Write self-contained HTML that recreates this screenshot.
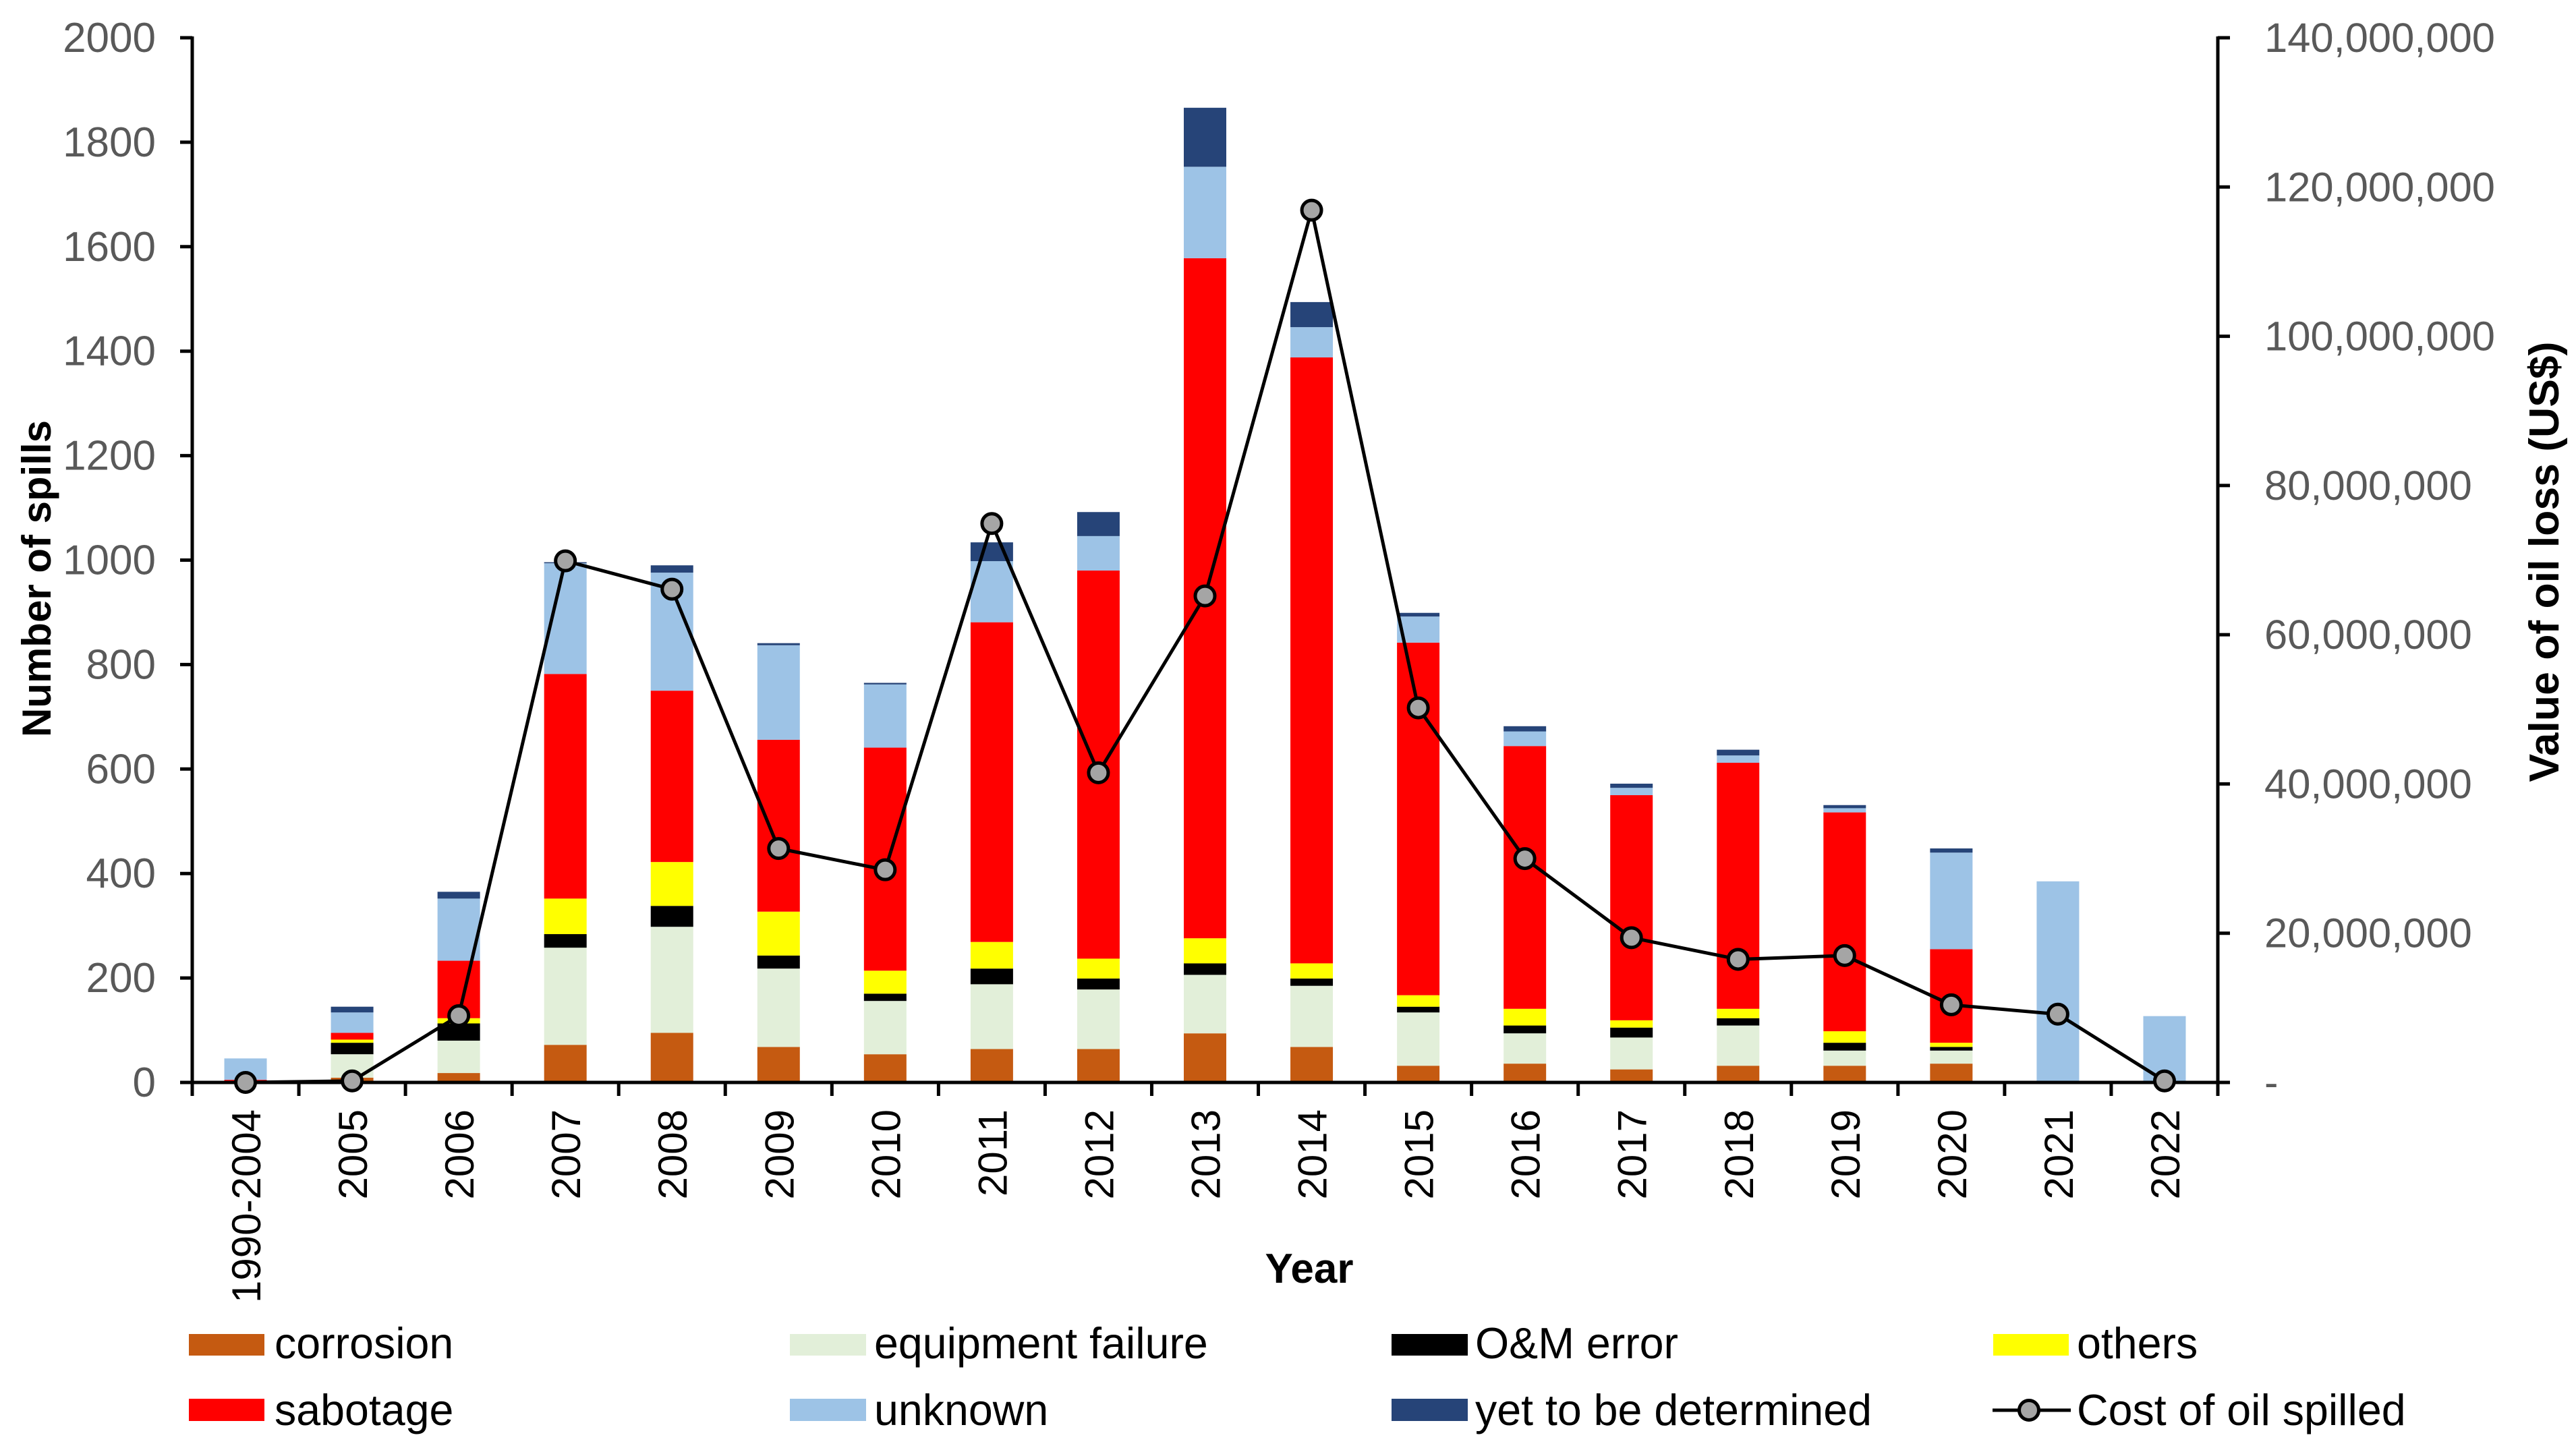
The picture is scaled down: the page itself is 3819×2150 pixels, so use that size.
<!DOCTYPE html>
<html lang="en">
<head>
<meta charset="utf-8">
<title>Oil spills by cause and cost of oil spilled</title>
<style>
html,body{margin:0;padding:0;background:#fff;}
body{width:3819px;height:2150px;overflow:hidden;}
svg{display:block;font-family:"Liberation Sans",Arial,sans-serif;}
</style>
</head>
<body>
<svg id="chart" xmlns="http://www.w3.org/2000/svg" width="3819" height="2150" viewBox="0 0 3819 2150">
  <rect x="0" y="0" width="3819" height="2150" fill="#ffffff"/>
  <g id="bars"></g>
  <g id="axes"></g>
  <g id="line"></g>
  <text transform="translate(75 858) rotate(-90)" text-anchor="middle" font-size="60" font-weight="bold" fill="#000">Number of spills</text>
  <text transform="translate(3793 833) rotate(-90)" text-anchor="middle" font-size="62.5" font-weight="bold" fill="#000">Value of oil loss (US$)</text>
  <text x="1941" y="1902" text-anchor="middle" font-size="62" font-weight="bold" fill="#000">Year</text>
  <g font-size="64.5" fill="#000">
    <g>
      <rect x="280" y="1978" width="112" height="32" fill="#C55A11"/>
      <text x="407" y="2014">corrosion</text>
    </g>
    <g>
      <rect x="1171" y="1978" width="113" height="32" fill="#E2EFD9"/>
      <text x="1296" y="2014">equipment failure</text>
    </g>
    <g>
      <rect x="2063" y="1978" width="113" height="32" fill="#000000"/>
      <text x="2187" y="2014">O&amp;M error</text>
    </g>
    <g>
      <rect x="2955" y="1978" width="112" height="32" fill="#FFFF00"/>
      <text x="3079" y="2014">others</text>
    </g>
    <g>
      <rect x="280" y="2074" width="112" height="33" fill="#FF0000"/>
      <text x="407" y="2113">sabotage</text>
    </g>
    <g>
      <rect x="1171" y="2074" width="113" height="33" fill="#9DC3E6"/>
      <text x="1296" y="2113">unknown</text>
    </g>
    <g>
      <rect x="2063" y="2074" width="113" height="33" fill="#264478"/>
      <text x="2187" y="2113">yet to be determined</text>
    </g>
    <g>
      <line x1="2954" y1="2091" x2="3070" y2="2091" stroke="#000" stroke-width="5"/>
      <circle cx="3008" cy="2091" r="14.5" fill="#A5A5A5" stroke="#000" stroke-width="5"/>
      <text x="3079" y="2113">Cost of oil spilled</text>
    </g>
  </g>
</svg>
<script>
const categories = ["1990-2004","2005","2006","2007","2008","2009","2010","2011","2012","2013","2014","2015","2016","2017","2018","2019","2020","2021","2022"];
const corrosion = [0,9,18,72,95,68,54,64,64,94,68,32,36,25,32,32,36,0,0];
const equipmentFailure = [0,45,62,186,203,150,102,124,114,112,117,102,58,61,77,29,25,0,0];
const omError = [0,22,33,26,40,25,14,30,21,22,14,11,15,19,14,15,7,0,0];
const others = [0,6,10,68,84,84,44,51,38,48,29,22,32,14,18,22,8,0,0];
const sabotage = [5,13,110,430,328,329,427,612,743,1302,1160,675,503,431,471,419,179,0,0];
const unknown = [41,39,119,212,226,181,121,117,66,175,58,50,28,14,14,8,185,385,127];
const yetToBeDetermined = [0,11,13,2,14,4,3,36,46,113,48,7,10,8,11,6,8,0,0];
const costOfOilSpilled = [0,200000,8950000,69900000,66100000,31350000,28500000,74900000,41500000,65200000,116900000,50200000,30000000,19400000,16500000,17000000,10400000,9150000,200000];
const leftTicks = [0,200,400,600,800,1000,1200,1400,1600,1800,2000];
const rightTicks = [0,20000000,40000000,60000000,80000000,100000000,120000000,140000000];

const stackOrder = [corrosion, equipmentFailure, omError, others, sabotage, unknown, yetToBeDetermined];
const stackNames = ["corrosion","equipment-failure","om-error","others","sabotage","unknown","yet-to-be-determined"];
const stackColors = ["#C55A11","#E2EFD9","#000000","#FFFF00","#FF0000","#9DC3E6","#264478"];

const plotLeft = 285, plotRight = 3288, plotTop = 56, plotBottom = 1605;
const leftMax = 2000, rightMax = 140000000;
const bandWidth = (plotRight - plotLeft) / categories.length;
const barWidth = 63;
function xCenter(i){ return plotLeft + bandWidth * (i + 0.5); }
function xEdge(i){ return plotLeft + bandWidth * i; }
function yLeft(v){ return plotBottom - (v / leftMax) * (plotBottom - plotTop); }
function yRight(v){ return plotBottom - (v / rightMax) * (plotBottom - plotTop); }

const NS = "http://www.w3.org/2000/svg";
function make(tag, parent, attrs, text){
  const el = document.createElementNS(NS, tag);
  for (const k in attrs) el.setAttribute(k, attrs[k]);
  if (text !== undefined) el.textContent = text;
  parent.appendChild(el);
  return el;
}

const barsG = document.getElementById("bars");
categories.forEach(function(cat, i){
  let cum = 0;
  stackOrder.forEach(function(series, s){
    const v = series[i];
    if (v > 0) {
      const top = yLeft(cum + v);
      const bar = make("rect", barsG, {x: xCenter(i) - barWidth / 2, y: top, width: barWidth, height: yLeft(cum) - top, fill: stackColors[s]});
      
      
    }
    cum += v;
  });
});

const axesG = document.getElementById("axes");
const axisStyle = {stroke: "#000", "stroke-width": 5, fill: "none"};
const leftAxis = make("line", axesG, Object.assign({x1: plotLeft, y1: plotTop - 2, x2: plotLeft, y2: plotBottom}, axisStyle));


const rightAxis = make("line", axesG, Object.assign({x1: plotRight, y1: plotTop - 2, x2: plotRight, y2: plotBottom}, axisStyle));


const xAxis = make("line", axesG, Object.assign({x1: plotLeft - 2, y1: plotBottom, x2: plotRight + 2, y2: plotBottom}, axisStyle));



leftTicks.forEach(function(v){
  const y = yLeft(v);
  const tick = make("line", axesG, Object.assign({x1: plotLeft - 18, y1: y, x2: plotLeft, y2: y}, axisStyle));
  
  
  const label = make("text", axesG, {x: 231, y: y + 21, "text-anchor": "end", "font-size": 62, fill: "#595959"}, String(v));
  
  
});

rightTicks.forEach(function(v){
  const y = yRight(v);
  const tick = make("line", axesG, Object.assign({x1: plotRight, y1: y, x2: plotRight + 18, y2: y}, axisStyle));
  
  
  const text = v === 0 ? "-" : v.toLocaleString("en-US");
  const label = make("text", axesG, {x: 3357, y: y + 21, "font-size": 61.5, fill: "#595959"}, text);
  
  
});

for (let i = 0; i <= categories.length; i++) {
  const x = xEdge(i);
  const tick = make("line", axesG, Object.assign({x1: x, y1: plotBottom, x2: x, y2: plotBottom + 20}, axisStyle));
  
  
}
categories.forEach(function(cat, i){
  const label = make("text", axesG, {transform: "translate(" + (xCenter(i) + 22) + " 1645) rotate(-90)", "text-anchor": "end", "font-size": 60, fill: "#000"}, cat);
  
  
});

const lineG = document.getElementById("line");
const linePoints = costOfOilSpilled.map(function(v, i){ return xCenter(i) + "," + yRight(v); }).join(" ");
const costLine = make("polyline", lineG, {points: linePoints, fill: "none", stroke: "#000", "stroke-width": 5, "stroke-linejoin": "round"});


costOfOilSpilled.forEach(function(v, i){
  const pt = make("circle", lineG, {cx: xCenter(i), cy: yRight(v), r: 14.5, fill: "#A5A5A5", stroke: "#000", "stroke-width": 5});
  
  
});
</script>
</body>
</html>
